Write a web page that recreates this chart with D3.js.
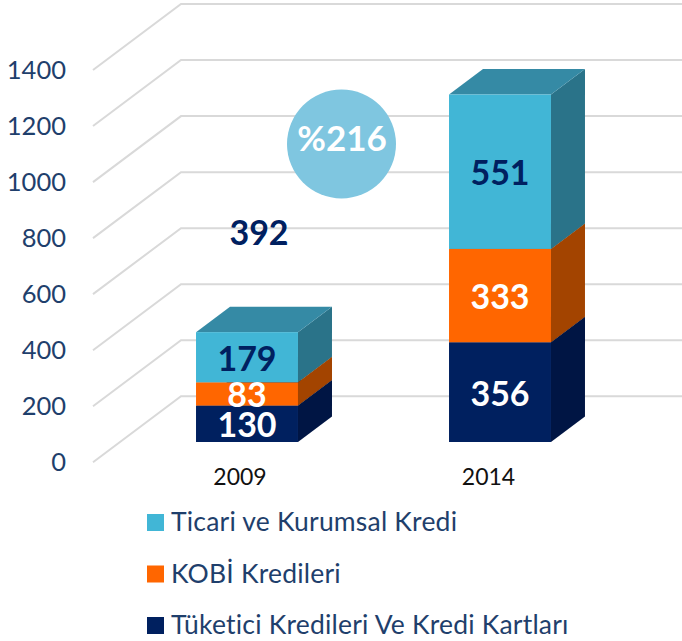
<!DOCTYPE html>
<html><head><meta charset="utf-8">
<script src="https://cdn.jsdelivr.net/npm/d3@7/dist/d3.min.js"></script>
<style>html,body{margin:0;padding:0;background:#fff;overflow:hidden}svg{display:block}text{font-family:Lato,"Open Sans",sans-serif}</style>
</head><body><svg id="c" width="682" height="641"></svg>
<script>
const categories = ["2009","2014"];
const seriesNames = ["Tüketici Kredileri Ve Kredi Kartları","KOBİ Kredileri","Ticari ve Kurumsal Kredi"];
const consumer = [130,356];
const sme = [83,333];
const corporate = [179,551];
const yTicks = [0,200,400,600,800,1000,1200,1400];
const totalLabel = "392";
const growthLabel = "%216";
const legendOrder = [2,1,0];
const front = ["#00205f","#ff6600","#41b6d6"];
const side = ["#001544","#a34400","#2a7389"];
const topFace = ["#001a4f","#b34a00","#358aa5"];
const labelFill = ["#fff","#fff","#002060"];

const svg = d3.select("#c");
const y = d3.scaleLinear().domain([0,1400]).range([462.3,70]);
const x = d3.scaleBand().domain(categories).range([120.5,626.5]).paddingInner(0.597).paddingOuter(0.2985);
const xLabel = d3.scalePoint().domain(categories).range([240,488.5]);
const wallDx = 88, wallDy = -66;
const barFrontLift = 20.3, depthDx = 34, depthDy = -25.5;
const gridRight = 682;

// gridlines
const grid = svg.append("g").attr("fill","none").attr("stroke","#d9d9d9").attr("stroke-width",2);
grid.selectAll("path").data(yTicks).join("path")
  .attr("d",t=>d3.line()([[93,y(t)],[93+wallDx,y(t)+wallDy],[gridRight,y(t)+wallDy]]));

// y axis labels
svg.append("g").selectAll("text").data(yTicks).join("text")
  .attr("x",66).attr("y",t=>y(t)+8.5).attr("text-anchor","end")
  .attr("font-size",25.5).attr("fill","#1f3f6c").text(t=>t);

// bars
const series = [consumer,sme,corporate];
const stacked = d3.stack().keys([0,1,2]).value((d,k)=>series[k][d])(categories.map((c,i)=>i));
const base = v => y(v)-barFrontLift;
const gBars = svg.append("g");
stacked.forEach((layer,k)=>{
  layer.forEach((d,i)=>{
    const x0=x(categories[i]), x1=x0+x.bandwidth(), yb=base(d[0]), yt=base(d[1]);
    const g=gBars.append("g");
    g.append("path").attr("fill",side[k]).attr("d",d3.line()([[x1,yb],[x1+depthDx,yb+depthDy],[x1+depthDx,yt+depthDy],[x1,yt]])+"Z");
    g.append("path").attr("fill",topFace[k]).attr("d",d3.line()([[x0,yt],[x0+depthDx,yt+depthDy],[x1+depthDx,yt+depthDy],[x1,yt]])+"Z");
    g.append("rect").attr("x",x0).attr("y",yt).attr("width",x.bandwidth()).attr("height",yb-yt).attr("fill",front[k]);
  });
});
// data labels: the two small 2009 segments sit tight, so their size stays below the band overlap
const labelSize = k => 34;
stacked.forEach((layer,k)=>{
  layer.forEach((d,i)=>{
    svg.append("text").attr("x",x(categories[i])+x.bandwidth()/2)
      .attr("y",(base(d[0])+base(d[1]))/2+13.5).attr("text-anchor","middle")
      .attr("font-size",labelSize(k)).attr("font-weight",700).attr("fill",labelFill[k]).text(series[k][i]);
  });
});

// category labels
svg.append("g").selectAll("text").data(categories).join("text")
  .attr("x",c=>xLabel(c)).attr("y",485).attr("text-anchor","middle")
  .attr("font-size",23).attr("fill","#111").text(c=>c);

// annotation
svg.append("circle").attr("cx",341.5).attr("cy",144).attr("r",54.5).attr("fill","#7fc6e0");
svg.append("text").attr("x",342).attr("y",151).attr("text-anchor","middle").attr("font-size",35).attr("font-weight",700).attr("fill","#fff").text(growthLabel);
svg.append("text").attr("x",259).attr("y",245).attr("text-anchor","middle").attr("font-size",34).attr("font-weight",700).attr("fill","#002060").text(totalLabel);

// legend
const legY = d3.scalePoint().domain(legendOrder).range([514,617]);
const leg = svg.append("g").selectAll("g").data(legendOrder).join("g").attr("transform",k=>`translate(147,${legY(k)})`);
leg.append("rect").attr("width",17).attr("height",17).attr("fill",k=>front[k]);
leg.append("text").attr("x",24).attr("y",17).attr("font-size",26.5).attr("letter-spacing",0.2).attr("fill","#1f3f6c").text(k=>seriesNames[k]);
</script></body></html>
